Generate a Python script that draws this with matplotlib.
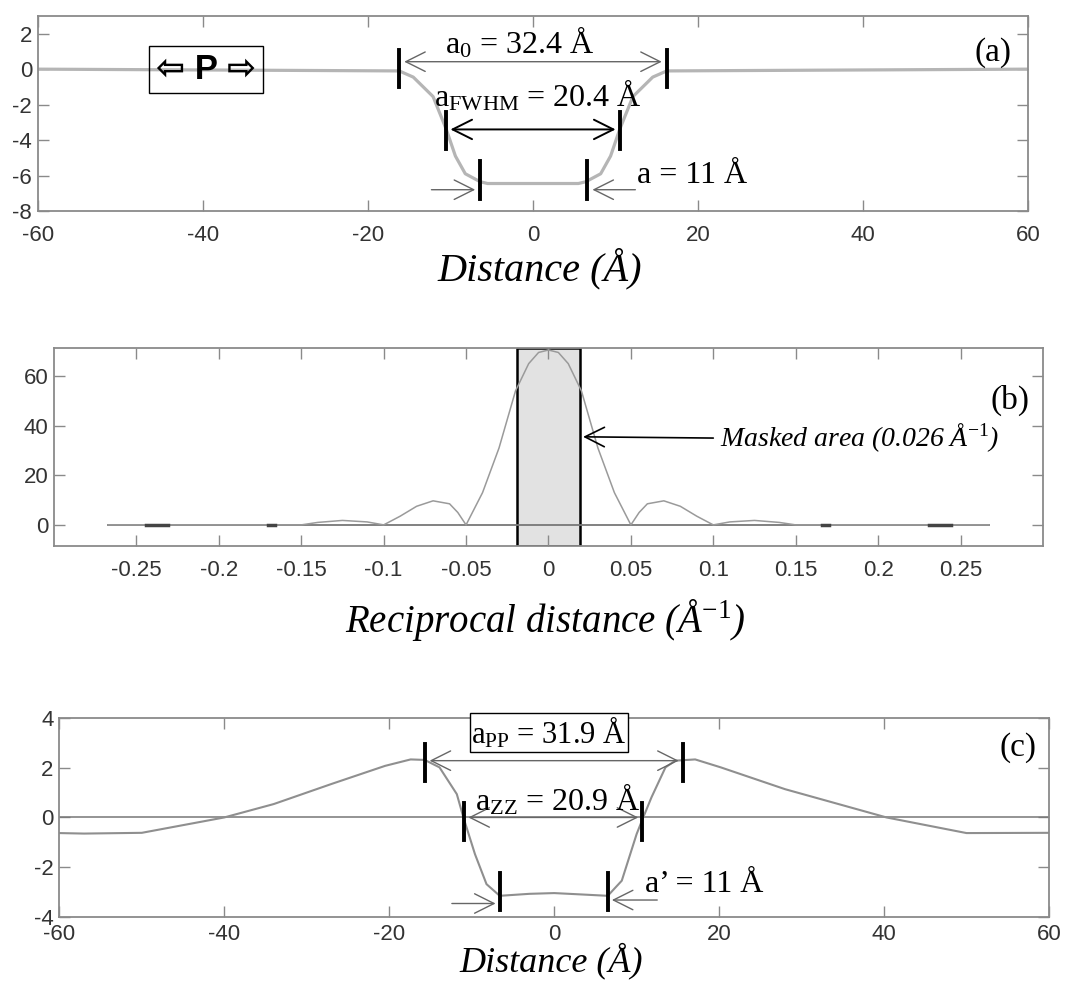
import numpy as np
import matplotlib
matplotlib.use("Agg")
from matplotlib import pyplot as plt

plt.rcParams['font.family'] = ['Liberation Sans', 'DejaVu Sans']
plt.rcParams['axes.unicode_minus'] = False
plt.rcParams['mathtext.fontset'] = 'custom'
plt.rcParams['mathtext.rm'] = 'Liberation Serif'
plt.rcParams['mathtext.it'] = 'Liberation Serif:italic'
plt.rcParams['mathtext.bf'] = 'Liberation Serif:bold'

# ---- panel (a): real-space profile
xa = [-60, -16.2, -14.5, -12.1, -10.5, -9.4, -8.2, -6.4, -5.5, 0, 5.5, 6.4, 8.2, 9.4, 10.5, 12.1, 14.5, 16.2, 60]
ya = [0, -0.1, -0.45, -1.55, -3.4, -4.9, -5.9, -6.35, -6.45, -6.45, -6.45, -6.35, -5.9, -4.9, -3.4, -1.55, -0.45, -0.1, 0]
a_marks_x = [-16.2, 16.2, -10.5, 10.5, -6.4, 6.6]
a_marks_y = [0.05, 0.05, -3.45, -3.45, -6.25, -6.25]

# ---- panel (b): reciprocal-space amplitude
xb = [-0.267, -0.15, -0.14, -0.125, -0.11, -0.1, -0.09, -0.08, -0.07, -0.06, -0.055, -0.05,
      -0.04, -0.03, -0.02, -0.012, -0.006, 0,
      0.006, 0.012, 0.02, 0.03, 0.04, 0.05, 0.055, 0.06, 0.07, 0.08, 0.09, 0.1,
      0.11, 0.125, 0.14, 0.15, 0.267]
yb = [0, 0, 1.0, 1.8, 1.2, 0, 3.5, 7.5, 9.7, 8.5, 5, 0,
      13, 31, 54, 65, 69.5, 70.5,
      69.5, 65, 54, 31, 13, 0, 5, 8.5, 9.7, 7.5, 3.5, 0,
      1.2, 1.8, 1.0, 0, 0]
dark_segs = [(-0.244, -0.231), (-0.170, -0.166), (0.166, 0.170), (0.231, 0.244)]
mask_lo, mask_hi = -0.019, 0.019

# ---- panel (c): recovered profile
xc = [-60, -57, -50, -40, -34, -27, -20.5, -17.4, -15.7, -13.9, -11.8, -11.0, -9.6, -8.2, -6.6,
      -3, 0, 3, 6.5, 8.2, 10.0, 10.8, 11.8, 13.5, 14.7, 17.1, 20.2, 28, 40.3, 50, 60]
yc = [-0.63, -0.65, -0.62, 0, 0.54, 1.35, 2.08, 2.34, 2.32, 2.02, 0.94, 0, -1.48, -2.69, -3.16,
      -3.08, -3.05, -3.1, -3.16, -2.55, -0.67, 0, 0.81, 2.02, 2.29, 2.34, 2.02, 1.14, 0, -0.63, -0.62]
c_marks_x = [-15.6, 15.6, -10.9, 10.7, -6.6, 6.5]
c_marks_y = [2.2, 2.2, -0.15, -0.15, -3.0, -3.0]

serif = 'Liberation Serif'
spine_c = '#8a8a8a'


def style(ax):
    for s in ax.spines.values():
        s.set_color(spine_c)
        s.set_linewidth(1.3)
    ax.tick_params(direction='in', length=8, width=1, color=spine_c, labelsize=16,
                   labelcolor='#333333', top=True, right=True, pad=4)


def arrow(ax, x0, x1, y, style='<->', color='#666666', lw=1.0):
    ax.annotate('', xy=(x1, y), xytext=(x0, y),
                arrowprops=dict(arrowstyle=style + ',head_length=0.7,head_width=0.35',
                                color=color, lw=lw, shrinkA=0, shrinkB=0, mutation_scale=20))


fig = plt.figure(figsize=(10.82, 9.85), dpi=100)

# (a)
ax1 = fig.add_axes([0.0348, 0.7858, 0.9156, 0.198])
ax1.plot(xa, ya, color='#b5b5b5', lw=2.3)
for x, y in zip(a_marks_x, a_marks_y):
    ax1.plot([x, x], [y - 1.05, y + 1.05], color='black', lw=2.8)
ax1.set_xlim(-60, 60)
ax1.set_ylim(-8, 3)
ax1.set_xticks([-60, -40, -20, 0, 20, 40, 60])
ax1.set_yticks([-8, -6, -4, -2, 0, 2])
style(ax1)
ax1.tick_params(axis='x', pad=10)
arrow(ax1, -15.6, 15.6, 0.42)
arrow(ax1, -10.0, 10.0, -3.4, color='black', lw=1.4)
arrow(ax1, -12.3, -7.0, -6.8, style='->')
arrow(ax1, 12.4, 7.2, -6.8, style='->')
ax1.text(-10.6, 1.5, 'a$_0$ = 32.4 Å', family=serif, fontsize=23, va='center')
ax1.text(-12.0, -1.5, 'a$_\\mathrm{FWHM}$ = 20.4 Å', family=serif, fontsize=23, va='center')
ax1.text(12.6, -6.0, 'a = 11 Å', family=serif, fontsize=23, va='center')
ax1.text(58, 0.95, '(a)', family=serif, fontsize=24, va='center', ha='right')
ax1.text(-39.6, 0.0, '⇦ P ⇨', fontsize=25, weight='bold', ha='center', va='center',
         family=['Liberation Sans', 'DejaVu Sans'],
         bbox=dict(boxstyle='square,pad=0.2', facecolor='none', edgecolor='black', lw=1))
ax1.set_xlabel('Distance (Å)', family=serif, style='italic', fontsize=29)
ax1.xaxis.set_label_coords(0.507, -0.295)
ax1.xaxis.label.set_va('center')

# (b)
ax2 = fig.add_axes([0.0499, 0.4457, 0.914, 0.201])
ax2.axvspan(mask_lo, mask_hi, facecolor='#e2e2e2', edgecolor='black', lw=1.8, zorder=1)
ax2.plot([xb[0], xb[-1]], [0, 0], color='#777777', lw=1.3, zorder=2)
ax2.plot(xb, yb, color='#9a9a9a', lw=1.1, zorder=3)
for s0, s1 in dark_segs:
    ax2.plot([s0, s1], [0, 0], color='#444444', lw=2.5, zorder=3)
ax2.set_xlim(-0.3, 0.3)
ax2.set_ylim(-8.5, 71.3)
bt = [-0.25, -0.2, -0.15, -0.1, -0.05, 0, 0.05, 0.1, 0.15, 0.2, 0.25]
ax2.set_xticks(bt)
ax2.set_xticklabels(['-0.25', '-0.2', '-0.15', '-0.1', '-0.05', '0', '0.05', '0.1', '0.15', '0.2', '0.25'])
ax2.set_yticks([0, 20, 40, 60])
style(ax2)
ax2.tick_params(axis='x', pad=10)
ax2.annotate('', xy=(0.021, 35.5), xytext=(0.1, 35),
             arrowprops=dict(arrowstyle='->,head_length=0.7,head_width=0.35', color='black',
                             lw=1.2, shrinkA=0, shrinkB=0, mutation_scale=20))
ax2.text(0.104, 35, 'Masked area (0.026 Å$^{\\mathit{-1}}$)', family=serif, style='italic',
         fontsize=20, va='center')
ax2.text(0.292, 50, '(b)', family=serif, fontsize=24, va='center', ha='right')
ax2.set_xlabel('Reciprocal distance (Å$^{\\mathit{-1}}$)', family=serif, style='italic', fontsize=28)
ax2.xaxis.set_label_coords(0.497, -0.374)
ax2.xaxis.label.set_va('center')

# (c)
ax3 = fig.add_axes([0.0548, 0.0694, 0.9147, 0.2014])
ax3.axhline(0, color='#777777', lw=1.1)
ax3.plot(xc, yc, color='#8f8f8f', lw=1.5)
for x, y in zip(c_marks_x, c_marks_y):
    ax3.plot([x, x], [y - 0.75, y + 0.75], color='black', lw=2.8)
ax3.set_xlim(-60, 60)
ax3.set_ylim(-4, 4)
ax3.set_xticks([-60, -40, -20, 0, 20, 40, 60])
ax3.set_yticks([-4, -2, 0, 2, 4])
style(ax3)
ax3.tick_params(axis='x', pad=5)
arrow(ax3, -15.1, 15.1, 2.29)
arrow(ax3, -10.4, 10.2, 0.0)
arrow(ax3, -12.4, -7.1, -3.47, style='->')
arrow(ax3, 12.5, 7.0, -3.33, style='->')
ax3.text(-0.6, 3.43, 'a$_\\mathrm{PP}$ = 31.9 Å', family=serif, fontsize=22, va='center', ha='center',
         clip_on=False,
         bbox=dict(boxstyle='square,pad=0.05', facecolor='white', edgecolor='black', lw=1))
ax3.text(-9.6, 0.7, 'a$_\\mathrm{ZZ}$ = 20.9 Å', family=serif, fontsize=23, va='center')
ax3.text(11.0, -2.7, 'a’ = 11 Å', family=serif, fontsize=23, va='center')
ax3.text(58.5, 2.8, '(c)', family=serif, fontsize=24, va='center', ha='right')
ax3.set_xlabel('Distance (Å)', family=serif, style='italic', fontsize=26)
ax3.xaxis.set_label_coords(0.497, -0.225)
ax3.xaxis.label.set_va('center')

fig.savefig('out.png', dpi=100)
